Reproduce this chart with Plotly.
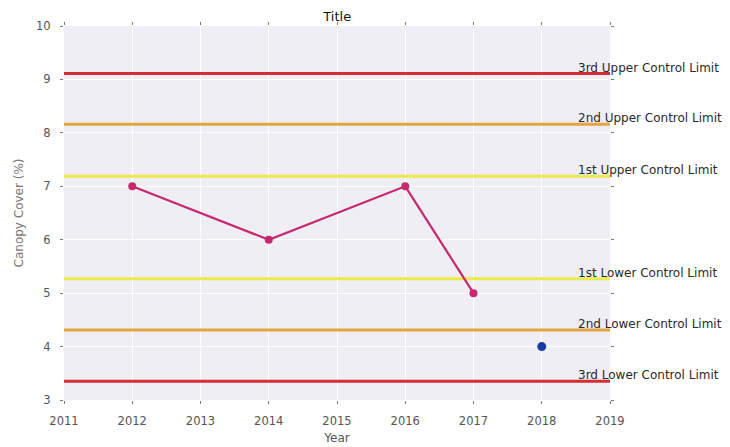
import plotly.graph_objects as go

years = [2012, 2014, 2016, 2017]
cover = [7, 6, 7, 5]
new_year = [2018]
new_cover = [4]

limit_names = ["3rd Upper Control Limit", "2nd Upper Control Limit", "1st Upper Control Limit",
               "1st Lower Control Limit", "2nd Lower Control Limit", "3rd Lower Control Limit"]
limit_values = [9.11, 8.16, 7.19, 5.27, 4.31, 3.35]
limit_colors = ["#d42e34", "#e6a53c", "#eeea4a", "#eeea4a", "#e6a53c", "#d42e34"]

x_ticks = [2011, 2012, 2013, 2014, 2015, 2016, 2017, 2018, 2019]
y_ticks = [3, 4, 5, 6, 7, 8, 9, 10]

fig = go.Figure()
for name, val, col in zip(limit_names, limit_values, limit_colors):
    fig.add_trace(go.Scatter(x=[x_ticks[0], x_ticks[-1]], y=[val, val], mode="lines",
                             line=dict(color=col, width=3), showlegend=False, hoverinfo="skip"))
    fig.add_annotation(x=2018.5, y=val, text=name, showarrow=False, xanchor="left",
                       yanchor="bottom", yshift=-3, font=dict(size=12, color="#2a2a2a"))

fig.add_trace(go.Scatter(x=years, y=cover, mode="lines+markers",
                         line=dict(color="#c8286e", width=2.2),
                         marker=dict(color="#c8286e", size=8), showlegend=False))
fig.add_trace(go.Scatter(x=new_year, y=new_cover, mode="markers",
                         marker=dict(color="#1a3aa8", size=9), showlegend=False))

fig.update_layout(
    width=730, height=447,
    margin=dict(l=56, r=128, t=18, b=55),
    paper_bgcolor="white", plot_bgcolor="#eeeef4",
    font=dict(family="DejaVu Sans", size=11.5, color="#555555"),
    title=dict(text="Title", x=0.451, xanchor="center", y=0.982, yanchor="middle",
               font=dict(size=13, color="#111111")),
)
fig.update_xaxes(range=[2011, 2019], tickvals=x_ticks, ticktext=[str(t) for t in x_ticks],
                 showgrid=True, gridcolor="white", gridwidth=1, zeroline=False,
                 ticks="outside", ticklen=3, tickcolor="#777777", mirror="ticks",
                 ticklabelstandoff=7, automargin=False,
                 showline=False, title=dict(text="Year", standoff=6, font=dict(size=12, color="#555555")))
fig.update_yaxes(range=[3, 10], tickvals=y_ticks, showgrid=True, gridcolor="white", gridwidth=1,
                 zeroline=False, ticks="outside", ticklen=3, tickcolor="#777777", mirror="ticks",
                 ticklabelstandoff=7, automargin=False,
                 showline=False, title=dict(text="Canopy Cover (%)", standoff=9, font=dict(size=12, color="#777777")))

fig.write_html("out.html")
